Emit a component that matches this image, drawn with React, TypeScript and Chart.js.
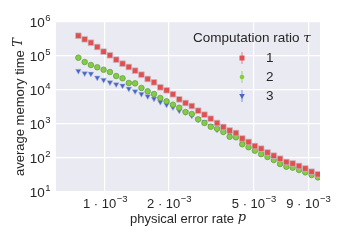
import React, { useEffect, useRef } from "react";
import { Chart, registerables } from "chart.js";

Chart.register(...registerables);

// physical error rate p (x values)
const errorRates = [
  0.00075, 0.000803, 0.000859, 0.00092, 0.000985, 0.001055, 0.001129, 0.001209,
  0.001294, 0.001385, 0.001483, 0.001587, 0.001699, 0.001819, 0.001947, 0.002085,
  0.002232, 0.002389, 0.002557, 0.002738, 0.002931, 0.003137, 0.003359, 0.003595,
  0.003849, 0.00412, 0.004411, 0.004722, 0.005055, 0.005411, 0.005793, 0.006201,
  0.006638, 0.007106, 0.007607, 0.008144, 0.008718, 0.009333, 0.009991,
];

// average memory time T for computation ratio tau = 1, 2, 3
const tau1 = [
  395000, 310000, 246000, 184000, 134000, 105000, 77900, 59400, 47500, 37000, 28200,
  21100, 16800, 12000, 9800, 7480, 5320, 4150, 3380, 2460, 1880, 1430, 1070, 817,
  644, 543, 375, 296, 225, 188, 145, 117, 95.3, 76.3, 68.9, 58.2, 49.1, 39.5, 33.2,
];
const tau2 = [
  89100, 66600, 54400, 46500, 39500, 33800, 25800, 22100, 16100, 15700, 11500, 9160,
  7620, 5820, 4660, 3700, 3010, 2250, 1970, 1370, 1070, 833, 727, 582, 423, 406, 253,
  207, 164, 129, 107, 87.3, 66.7, 55.5, 51.9, 44.4, 37.9, 31.6, 27.0,
];
const tau3 = [
  36200, 31000, 30100, 23000, 19700, 16800, 14700, 13400, 10900, 9160, 7620, 6530,
  5550, 4440, 3700, 3100, 2460, 2210, 1750, 1370, 1150, 873, 680, 602, 508, 465, 296,
  258, 197, 164, 131, 98.0, 81.7, 69.8, 62.2, 51.9, 44.4, 37.0, 31.6,
];

const seriesLabels = ["1", "2", "3"];
const legendTitle = "Computation ratio ";
const legendTitleSymbol = "τ";
const xTitle = "physical error rate ";
const xTitleSymbol = "p";
const yTitle = "average memory time ";
const yTitleSymbol = "T";

// tick labels: [base, exponent]
const yTickValues = [1e1, 1e2, 1e3, 1e4, 1e5, 1e6];
const yTickBases = ["10", "10", "10", "10", "10", "10"];
const yTickExps = ["1", "2", "3", "4", "5", "6"];
const xTickValues = [1e-3, 2e-3, 5e-3, 9e-3];
const xTickBases = ["1 · 10", "2 · 10", "5 · 10", "9 · 10"];
const xTickExps = ["−3", "−3", "−3", "−3"];

const RED = "#e05050";
const GREEN = "#84cc44";
const BLUE = "#4466cc";
const TEXT = "#262626";
const FONT = "'Liberation Sans', Arial, sans-serif";
const MATH = "'DejaVu Serif', serif";

const overlayPlugin = {
  id: "overlay",
  afterDraw(chart: any) {
    const ctx = chart.ctx as CanvasRenderingContext2D;
    const area = chart.chartArea;
    const xs = chart.scales.x;
    const ys = chart.scales.y;
    ctx.save();
    ctx.fillStyle = TEXT;
    ctx.textBaseline = "alphabetic";
    ctx.textAlign = "left";

    // y tick labels
    for (let i = 0; i < yTickValues.length; i++) {
      const py = ys.getPixelForValue(yTickValues[i]);
      ctx.font = `13.5px ${FONT}`;
      const bw = ctx.measureText(yTickBases[i]).width;
      ctx.font = `9.5px ${FONT}`;
      const ew = ctx.measureText(yTickExps[i]).width;
      const right = area.left - 6;
      const left = right - bw - ew;
      ctx.font = `13.5px ${FONT}`;
      ctx.fillText(yTickBases[i], left, py + 5);
      ctx.font = `9.5px ${FONT}`;
      ctx.fillText(yTickExps[i], left + bw + 0.5, py - 1);
    }

    // x tick labels
    for (let i = 0; i < xTickValues.length; i++) {
      const px = xs.getPixelForValue(xTickValues[i]);
      ctx.font = `13px ${FONT}`;
      const bw = ctx.measureText(xTickBases[i]).width;
      ctx.font = `9.5px ${FONT}`;
      const ew = ctx.measureText(xTickExps[i]).width;
      const left = px - (bw + ew) / 2;
      ctx.font = `13px ${FONT}`;
      ctx.fillText(xTickBases[i], left, area.bottom + 16);
      ctx.font = `9.5px ${FONT}`;
      ctx.fillText(xTickExps[i], left + bw + 0.5, area.bottom + 10);
    }

    ctx.textBaseline = "middle";
    // x title
    ctx.font = `13px ${FONT}`;
    const w1 = ctx.measureText(xTitle).width;
    ctx.font = `italic 13px ${MATH}`;
    const w2 = ctx.measureText(xTitleSymbol).width;
    const cx = (area.left + area.right) / 2;
    const sx = cx - (w1 + w2) / 2;
    ctx.font = `13px ${FONT}`;
    ctx.fillText(xTitle, sx, 219);
    ctx.font = `italic 13px ${MATH}`;
    ctx.fillText(xTitleSymbol, sx + w1, 218);

    // y title
    ctx.save();
    ctx.translate(20, (area.top + area.bottom) / 2);
    ctx.rotate(-Math.PI / 2);
    ctx.font = `13px ${FONT}`;
    const v1 = ctx.measureText(yTitle).width;
    ctx.font = `italic 13px ${MATH}`;
    const v2 = ctx.measureText(yTitleSymbol).width;
    const sy = -(v1 + v2) / 2;
    ctx.font = `13px ${FONT}`;
    ctx.fillText(yTitle, sy, 0);
    ctx.font = `italic 13px ${MATH}`;
    ctx.fillText(yTitleSymbol, sy + v1, -1);
    ctx.restore();

    // legend
    ctx.font = `13.5px ${FONT}`;
    ctx.fillText(legendTitle, 193, 38);
    const lt = ctx.measureText(legendTitle).width;
    ctx.font = `italic 13.5px ${MATH}`;
    ctx.fillText(legendTitleSymbol, 193 + lt, 38);

    const colors = [RED, GREEN, BLUE];
    const bars = ["rgba(224,80,80,0.45)", "rgba(132,204,68,0.5)", "rgba(68,102,204,0.45)"];
    const ly = [58, 77, 96];
    for (let i = 0; i < 3; i++) {
      const mx = 242;
      const my = ly[i];
      ctx.strokeStyle = bars[i];
      ctx.lineWidth = 1.5;
      ctx.beginPath();
      ctx.moveTo(mx, my - 6);
      ctx.lineTo(mx, my + 6);
      ctx.stroke();
      ctx.fillStyle = colors[i];
      ctx.beginPath();
      if (i === 0) {
        ctx.rect(mx - 2.5, my - 2.5, 5, 5);
      } else if (i === 1) {
        ctx.arc(mx, my, 2.3, 0, Math.PI * 2);
      } else {
        ctx.moveTo(mx - 2.8, my - 2);
        ctx.lineTo(mx + 2.8, my - 2);
        ctx.lineTo(mx, my + 3);
        ctx.closePath();
      }
      ctx.fill();
      ctx.fillStyle = TEXT;
      ctx.font = `13.5px ${FONT}`;
      ctx.fillText(seriesLabels[i], 266, my);
    }
    ctx.restore();
  },
};

const bgPlugin = {
  id: "plotBg",
  beforeDraw(chart: any) {
    const ctx = chart.ctx as CanvasRenderingContext2D;
    const a = chart.chartArea;
    ctx.save();
    ctx.fillStyle = "#ffffff";
    ctx.fillRect(0, 0, chart.width, chart.height);
    ctx.fillStyle = "#eaeaf2";
    ctx.fillRect(a.left, a.top, a.right - a.left, a.bottom - a.top);
    ctx.restore();
  },
};

export default function App() {
  const ref = useRef<HTMLCanvasElement | null>(null);

  useEffect(() => {
    if (!ref.current) return;
    const mk = (vals: number[]) => vals.map((y, i) => ({ x: errorRates[i], y }));
    const chart = new Chart(ref.current, {
      type: "scatter",
      data: {
        datasets: [
          {
            label: seriesLabels[0],
            data: mk(tau1),
            pointStyle: "rect",
            pointRadius: 4,
            backgroundColor: RED,
            borderColor: "rgba(200,190,200,0.7)",
            borderWidth: 1,
          },
          {
            label: seriesLabels[1],
            data: mk(tau2),
            pointStyle: "circle",
            pointRadius: 2.8,
            backgroundColor: GREEN,
            borderColor: "rgba(90,150,60,0.8)",
            borderWidth: 0.8,
          },
          {
            label: seriesLabels[2],
            data: mk(tau3),
            pointStyle: "triangle",
            rotation: 180,
            pointRadius: 3.3,
            backgroundColor: BLUE,
            borderColor: "rgba(180,185,210,0.7)",
            borderWidth: 0.8,
          },
        ],
      },
      options: {
        animation: false,
        responsive: false,
        maintainAspectRatio: false,
        layout: { padding: { top: 22, right: 29, left: 0, bottom: 0 } },
        plugins: { legend: { display: false }, tooltip: { enabled: false } },
        scales: {
          x: {
            type: "logarithmic",
            min: 5.89e-4,
            max: 1.022e-2,
            afterBuildTicks: (s: any) => {
              s.ticks = xTickValues.map((v) => ({ value: v }));
            },
            afterFit: (s: any) => {
              s.height = 48;
            },
            grid: { color: "#ffffff", lineWidth: 1.2, drawTicks: false },
            border: { display: false },
            ticks: { display: false },
          },
          y: {
            type: "logarithmic",
            min: 10,
            max: 1e6,
            afterBuildTicks: (s: any) => {
              s.ticks = yTickValues.map((v) => ({ value: v }));
            },
            afterFit: (s: any) => {
              s.width = 56;
            },
            grid: { color: "#ffffff", lineWidth: 1.2, drawTicks: false },
            border: { display: false },
            ticks: { display: false },
          },
        },
      },
      plugins: [bgPlugin, overlayPlugin],
    });
    return () => chart.destroy();
  }, []);

  return (
    <div style={{ position: "fixed", left: 0, top: 0, width: 349, height: 240 }}>
      <canvas ref={ref} width={349} height={240} style={{ width: 349, height: 240 }} />
    </div>
  );
}
